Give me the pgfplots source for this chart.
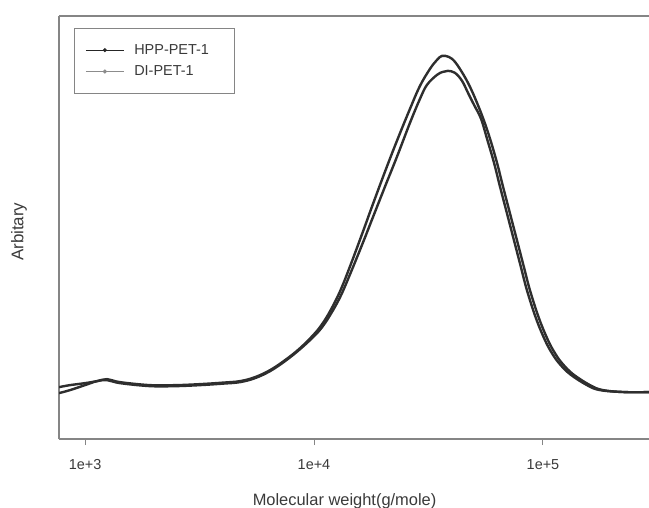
\documentclass[border=0pt]{standalone}
\usepackage{fontspec}
\setmainfont{Liberation Sans}
\usepackage{pgfplots}
\pgfplotsset{compat=1.18}

\definecolor{curve}{HTML}{2E2E2E}
\definecolor{txt}{HTML}{3A3A3A}
\definecolor{frame}{HTML}{858585}

% GPC traces, MW (g/mol) vs. detector response (arbitrary units)
\pgfplotstableread{
mw      y
770     51
860     53
1000    55
1128    57
1248    59
1422    56
1922    53
2500    53
3178    54
4000    55.5
4751    57
5526    61
6424    68
7470    78
8687    90
10000   104
10837   114
11746   127
12990   147
14362   172
16368   207
17921   232
20419   267
23034   298
26259   330
29034   353
32107   370
34450   379
36224   383
38800   382
41276   377
44730   365
47990   352
51500   336
55260   318
58700   300
62960   276
66890   252
71770   225
77020   198
82610   171
87740   148
96050   120
105160  98
112800  85
121090  75
135210  64
160410  53
182800  48
228100  46
290400  46
}\hpp

\pgfplotstableread{
mw      y
770     45
860     48
1000    53
1128    57
1248    58
1422    55
1922    52
2500    52
3178    53
4000    54.5
4751    56
5526    60
6424    67
7470    77
8687    89
10000   102
10837   111
11746   123
12990   141
14362   164
16368   196
17921   219
20419   252
23034   282
26259   316
29034   340
31151   354
34450   364
36590   367
38480   368
41280   366
44300   358
47040   346
49960   334
53620   320
56960   300
61090   276
64900   252
69640   225
74730   198
80160   171
85130   148
93200   120
102040  98
109450  85
117490  75
131200  64
155650  53
177370  48
228100  46
290400  46
}\dipet

\begin{document}
\begin{tikzpicture}
\begin{axis}[
    scale only axis,
    width=590bp, height=423bp,
    xmode=log,
    xmin=770, xmax=290400,
    ymin=-1, ymax=423,
    axis x line*=box, axis y line*=left,
    axis line style={frame, line width=1.3bp},
    xtick={1000,10000,100000},
    xticklabels={1e+3,1e+4,1e+5},
    xminorticks=false,
    xtick pos=bottom,
    ytick=\empty,
    tick align=outside,
    major tick length=6bp,
    tick style={frame, line width=1bp},
    xticklabel style={font=\fontsize{14.5}{16}\selectfont, text=txt, yshift=-11bp},
    xlabel={Molecular weight(g/mole)},
    xlabel style={font=\fontsize{16.5}{18}\selectfont, text=txt,
                  at={(rel axis cs:0.484,0)}, anchor=base, yshift=-66bp},
    ylabel={Arbitary},
    ylabel style={font=\fontsize{17}{19}\selectfont, text=txt,
                  at={(rel axis cs:-0.0678,0.49)}, anchor=center},
    legend style={at={(rel axis cs:0,1)}, anchor=north west, xshift=15bp, yshift=-12bp,
                  draw=frame, line width=0.8bp, fill=white,
                  font=\fontsize{14.5}{16}\selectfont, text=txt,
                  inner xsep=11bp, inner ysep=14bp, row sep=6bp, column sep=8bp},
    legend cell align=left,
    legend image code/.code={
        \draw[#1, line width=0.9bp] (0bp,0bp) -- (38bp,0bp);
        \fill[#1] (19bp,0bp) circle (1.6bp);
    },
]
\addplot[curve, line width=2.4bp, smooth, tension=0.6, forget plot] table[x=mw, y=y] {\hpp};
\addplot[curve, line width=2.4bp, smooth, tension=0.6, forget plot] table[x=mw, y=y] {\dipet};

\addlegendimage{black!85}
\addlegendentry{\makebox[87bp][l]{HPP-PET-1}}
\addlegendimage{black!45}
\addlegendentry{DI-PET-1}
\end{axis}
\pgfresetboundingbox
\path[use as bounding box] (current axis.south west) ++(-59bp,-69bp) rectangle ([yshift=16bp]current axis.north east);
\end{tikzpicture}
\end{document}
